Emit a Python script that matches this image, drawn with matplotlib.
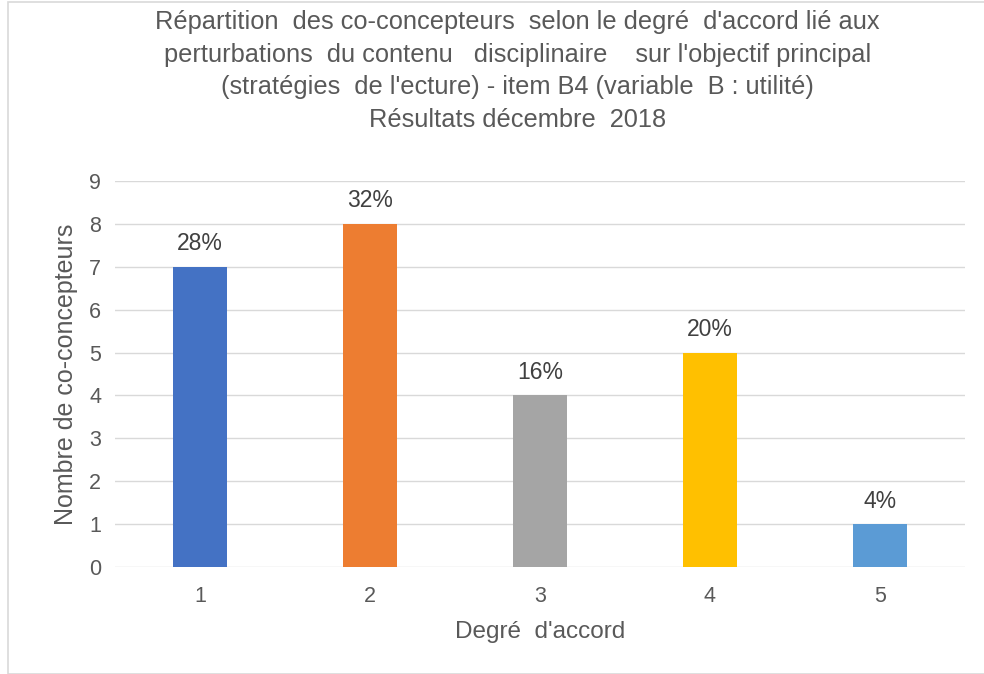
import matplotlib
matplotlib.use("Agg")
import matplotlib.pyplot as plt
from matplotlib.patches import Rectangle

categories = ["1", "2", "3", "4", "5"]
values = [7, 8, 4, 5, 1]
labels = ["28%", "32%", "16%", "20%", "4%"]
colors = ["#4472C4", "#ED7D31", "#A5A5A5", "#FFC000", "#5B9BD5"]
yticks = list(range(0, 10))

title = ("Répartition  des co-concepteurs  selon le degré  d'accord lié aux\n"
         "perturbations  du contenu   disciplinaire    sur l'objectif principal\n"
         "(stratégies  de l'ecture) - item B4 (variable  B : utilité)\n"
         "Résultats décembre  2018")

plt.rcParams['font.family'] = ['Liberation Sans', 'DejaVu Sans']
txt = "#595959"

fig = plt.figure(figsize=(9.84, 6.74), dpi=100)
fig.patches.append(Rectangle((8/984, 0), 1, 1 - 2/674, transform=fig.transFigure,
                             fill=False, edgecolor="#d9d9d9", linewidth=1.2))
ax = fig.add_axes([115/984, 1 - 567/674, 850/984, 386/674])

x = list(range(1, len(categories) + 1))
ax.bar(x, values, width=0.32, color=colors, zorder=3)
for xi, v, l in zip(x, values, labels):
    ax.text(xi, v + 0.27, l, ha="center", va="bottom", fontsize=16.5, color="#404040")

ax.set_xlim(0.5, 5.5)
ax.set_ylim(0, 9)
ax.set_yticks(yticks)
ax.set_xticks(x)
ax.set_xticklabels(categories)
ax.tick_params(axis="y", length=0, labelsize=15.5, colors=txt, pad=10)
ax.tick_params(axis="x", length=0, labelsize=15.5, colors=txt, pad=14)
ax.grid(axis="y", color="#d9d9d9", linewidth=1, zorder=0)
for s in ax.spines.values():
    s.set_visible(False)
ax.set_xlabel("Degré  d'accord", fontsize=17.5, color=txt, labelpad=10)
ax.set_ylabel("Nombre de co-concepteurs", fontsize=18, color=txt, labelpad=8)

fig.text(0.526, 0.985, title, ha="center", va="top", fontsize=18.3, color=txt, linespacing=1.45)

fig.savefig("out.png", dpi=100)
